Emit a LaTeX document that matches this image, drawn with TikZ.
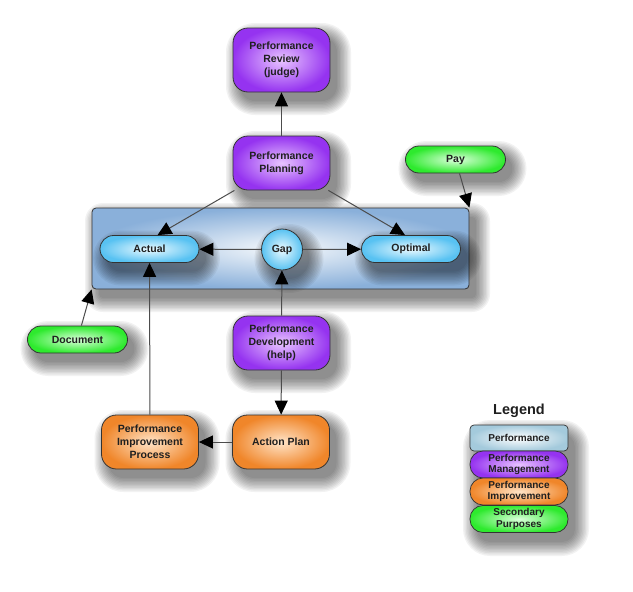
\documentclass[tikz,border=0pt]{standalone}
\usepackage{fontspec}
\setmainfont{Liberation Sans}
\usetikzlibrary{arrows.meta}
\definecolor{purpE}{HTML}{9533F0}
\definecolor{purpC}{HTML}{E8C4FF}
\definecolor{orgE}{HTML}{F0862A}
\definecolor{orgC}{HTML}{FFE4C8}
\definecolor{grnE}{HTML}{2EEA2E}
\definecolor{grnC}{HTML}{DCFFDC}
\definecolor{bluE}{HTML}{58C2F2}
\definecolor{bluC}{HTML}{ECFAFF}
\definecolor{bigE}{HTML}{8AB0DA}
\definecolor{bigC}{HTML}{F6F9FC}
\definecolor{legE}{HTML}{A4CADC}
% soft shadow: cx, cy, w, h, corner radius
\newcommand\rshadow[5]{%
  \foreach \k in {0,...,10}{%
    \pgfmathsetmacro\e{1.4*\k}%
    \pgfmathsetmacro\rr{#5+\e}%
    \fill[black,opacity=0.05,rounded corners=\rr pt]
      ({#1-#3/2-\e+7},{#2-#4/2-\e+9}) rectangle ({#1+#3/2+\e+7},{#2+#4/2+\e+9});
  }}
\newcommand\cshadow[3]{%
  \foreach \k in {0,...,10}{%
    \pgfmathsetmacro\e{1.4*\k}%
    \fill[black,opacity=0.05] ({#1+7},{#2+9}) circle[radius={#3+\e}];
  }}
\tikzset{
  txt/.style={font=\fontsize{10.5}{13}\selectfont\bfseries, align=center, text=black!88},
  mgmt/.style={txt, draw=black!80, line width=0.8pt, inner color=purpC, outer color=purpE,
    rounded corners=15pt, minimum width=97pt, minimum height=54pt, inner sep=2pt},
  impr/.style={txt, draw=black!80, line width=0.8pt, inner color=orgC, outer color=orgE,
    rounded corners=15pt, minimum width=97pt, minimum height=54pt, inner sep=2pt},
  sec/.style={txt, draw=black!80, line width=0.8pt, inner color=grnC, outer color=grnE,
    rounded corners=13.5pt, minimum width=100pt, minimum height=27pt, inner sep=1pt},
  perf/.style={txt, draw=black!80, line width=0.8pt, inner color=bluC, outer color=bluE,
    rounded corners=13.5pt, minimum width=99pt, minimum height=27pt, inner sep=1pt},
  arr/.style={draw=black!70, line width=1pt, -{Triangle[length=14pt,width=13pt,color=black]}},
  legtxt/.style={font=\fontsize{10}{11.5}\selectfont\bfseries, align=center, text=black!88},
  legbox/.style={legtxt, draw=black!80, line width=0.7pt, rounded corners=13pt,
    minimum width=98pt, minimum height=27pt, inner sep=0pt},
}
\begin{document}
\begin{tikzpicture}[x=1pt,y=-1pt]
\useasboundingbox (0,0) rectangle (633,592);
% shadows of outer nodes
\rshadow{280.5}{248.5}{377}{81}{4}
\rshadow{281.5}{60}{97}{64}{15}
\rshadow{281.5}{163}{97}{54}{15}
\rshadow{455.5}{159.5}{100}{27}{13.5}
\rshadow{77.5}{339.5}{100}{27}{13.5}
\rshadow{281.5}{343}{97}{54}{15}
\rshadow{281}{442}{97}{54}{15}
\rshadow{150}{442}{97}{54}{15}
\rshadow{519}{479}{98}{108}{13}
% big performance rectangle
\node[draw=black!80, line width=0.8pt, inner color=bigC, outer color=bigE, rounded corners=4pt,
  minimum width=377pt, minimum height=81pt] (big) at (280.5,248.5) {};
% shadows of inner nodes
\rshadow{149.5}{249}{99}{27}{13.5}
\rshadow{411}{249}{99}{27}{13.5}
\cshadow{282}{249.5}{20.5}
% nodes
\node[mgmt, minimum height=64pt] (rev) at (281.5,60) {Performance\\Review\\(judge)};
\node[mgmt] (plan) at (281.5,163) {Performance\\Planning};
\node[perf] (act) at (149.5,249) {Actual};
\node[perf] (opt) at (411,249) {Optimal};
\node[txt, draw=black!80, line width=0.8pt, inner color=bluC, outer color=bluE, circle,
  minimum size=41pt, inner sep=0pt] (gap) at (282,249.5) {Gap};
\node[sec] (pay) at (455.5,159.5) {Pay};
\node[sec] (doc) at (77.5,339.5) {Document};
\node[mgmt] (dev) at (281.5,343) {Performance\\Development\\(help)};
\node[impr] (ap) at (281,442) {Action Plan};
\node[impr] (pip) at (150,442) {Performance\\Improvement\\Process};
% connectors
\draw[arr] (plan) -- (rev);
\draw[arr] (plan) -- ([xshift=8pt]act.north);
\draw[arr] (plan) -- ([xshift=-6pt]opt.north);
\draw[arr] (gap) -- (act);
\draw[arr] (gap) -- (opt);
\draw[arr] (dev) -- (gap);
\draw[arr] (dev) -- (ap);
\draw[arr] (ap) -- (pip);
\draw[arr] (pip) -- (act);
\draw[arr] (pay) -- (big.north east);
\draw[arr] (doc) -- (big.south west);
% legend
\node[font=\fontsize{14.5}{16}\selectfont\bfseries, text=black!88] (legtitle) at (519,411) {Legend};
\node[legbox, inner color=white, outer color=legE, rounded corners=4pt, minimum height=26pt] (l1) at (519,438) {Performance};
\node[legbox, inner color=purpC, outer color=purpE] (l2) at (519,464.5) {Performance\\Management};
\node[legbox, inner color=orgC, outer color=orgE] (l3) at (519,491.5) {Performance\\Improvement};
\node[legbox, inner color=grnC, outer color=grnE] (l4) at (519,519) {Secondary\\Purposes};
\end{tikzpicture}
\end{document}
